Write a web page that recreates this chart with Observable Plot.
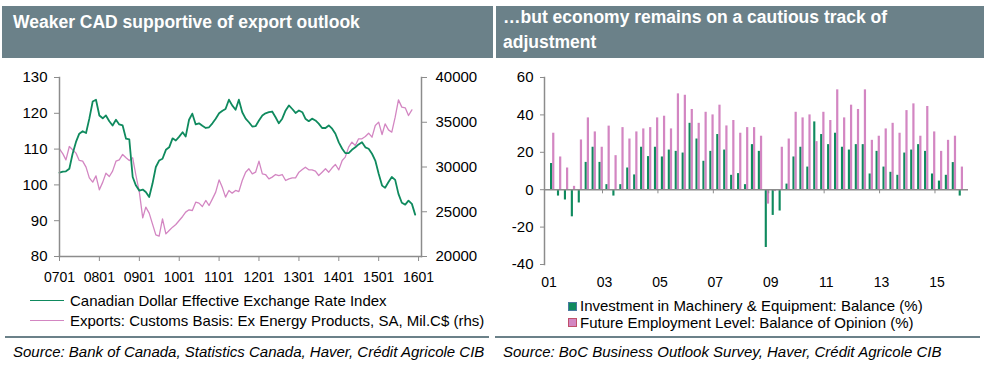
<!DOCTYPE html>
<html><head><meta charset="utf-8">
<script src="https://cdn.jsdelivr.net/npm/d3@7"></script>
<script src="https://cdn.jsdelivr.net/npm/@observablehq/plot@0.6"></script>
<style>
body{margin:0;background:#fff;font-family:"Liberation Sans",Arial,sans-serif;}
#page{position:relative;width:1000px;height:379px;overflow:hidden;background:#fff;}
.hdr{position:absolute;background:#6b8189;}
.ttl{position:absolute;color:#fff;font-weight:bold;font-size:17.5px;line-height:20px;white-space:nowrap;}
.abs{position:absolute;white-space:nowrap;}
.leg{font-size:15px;line-height:17px;color:#000;}
.src{font-size:15px;line-height:17px;font-style:italic;color:#000;}
.sep{position:absolute;height:2px;background:#6b8189;}
.plot{position:absolute;}
</style></head>
<body><div id="page"></div>
<script>
// ---------- DATA ----------
// Left panel: monthly, Jan 2007 onward
const cadStart = [2007, 0];
const cadIndex = [103.4,103.7,103.8,104.5,108.7,112,114.3,115,114.5,118.5,123.3,123.8,
 119.4,118.6,119.4,117.8,116.6,118.2,116.9,116.6,112.9,112.7,102.2,99.8,
 98.4,98.7,98.0,96.6,100.3,105,106.8,107.3,109.8,110.5,113,112.4,
 113.5,114.7,113.5,118.2,119.9,116.9,117.2,116.5,115.9,116.1,117.2,118.5,
 120,120.7,121.2,123.8,122.2,121,123.8,120.3,118.5,117.5,116.3,116.4,
 118,119.4,120,120.3,120.5,118.9,117.2,118.5,120.8,122.2,121.2,120.1,
 120.8,120.3,118.5,117.8,118.5,118,117.1,115.9,115.9,116.6,115.7,114.3,
 111.9,110.1,108.9,108.9,109.8,110.5,111.3,111.9,110.5,110.1,108.7,106.8,
 103.1,99.8,99.2,100.8,102.2,101.4,97.5,95,94.5,95.6,94.7,91.7];
const exportsExEnergy = [32030,31470,30800,32290,31920,31550,30730,30650,29980,28790,28310,29010,
 27450,28310,29310,28940,29540,30650,30800,31400,31030,30730,31030,29050,
 27190,24320,25510,24840,23650,22420,22270,24210,22530,22910,23280,23580,
 24020,24470,24960,25220,25140,26070,25960,25590,26260,25700,26440,27190,
 28570,27670,26630,27380,27080,27380,27250,28490,29420,29800,29240,29420,
 30650,29240,29160,28680,28870,29160,29050,29160,28490,28680,28790,28790,
 29420,29720,29980,29680,29680,29540,29050,29420,29800,29420,29910,30280,
 29680,30730,31100,32220,32780,32400,33150,33150,33410,33780,33330,34640,
 35010,33630,34820,34150,33890,35570,37500,36690,36610,35750,36390];
const leftYTicks = [80,90,100,110,120,130];
const rightYTicks = [20000,25000,30000,35000,40000];
const leftXTickYears = [2007,2008,2009,2010,2011,2012,2013,2014,2015,2016];
const leftSeriesNames = ["Canadian Dollar Effective Exchange Rate Index","Exports: Customs Basis: Ex Energy Products, SA, Mil.C$ (rhs)"];

// Right panel: quarterly, 2001Q1 - 2015Q4
const bosStartYear = 2001;
const investmentME = [14,-3.4,-5.5,-14.5, -7.1,14.6,22.7,14.6, 2.7,-3.4,2.7,11.6, 7.9,22.7,17.7,22.7,
 17.5,21.2,20.5,19.6, 35.5,27.1,15.2,20.5, 29.5,21.2,7.7,8.6, 2.7,24.1,20.5,-30.9,
 -13.75,-11.4,3,17.5, 22.7,12.1,36.25,29.5, 24.1,30.2,22.7,21.2, 24.1,24.1,8.4,20.5,
 12.1,9.3,7.7,19.6, 21.2,24.1,20.5,8.4, 4.6,7.7,14.5,-3.4];
const futureEmployment = [30.2,17.5,11.6,1.8, 26.6,38.4,30.9,22.7, 34,18.2,33.2,27.1, 30.9,32.5,33.2,38.4,
 39.3,32.5,51.25,50.5, 42.9,35.5,41.4,40, 45.2,34.1,37,30.2, 33.2,33.2,28.6,-7.7,
 -1,22.7,27.1,41.4, 38.4,40,25.7,41.4, 37,53.4,38.4,45.2, 42.9,53.4,26.4,28.6,
 32.5,35.5,30.2,42.3, 45.9,28.6,44.5,30.9, 20.5,26.4,28.6,12.1];
const bosYTicks = [-40,-20,0,20,40,60];
const bosXTickYears = [2001,2003,2005,2007,2009,2011,2013,2015];
const bosSeriesNames = ["Investment in Machinery & Equipment: Balance (%)","Future Employment Level: Balance of Opinion (%)"];

// ---------- STYLE ----------
const GREEN = "#0f8a5e", PINK = "#d386c2", AXIS = "#8c8c8c";
const FONT = '"Liberation Sans", Arial, sans-serif';
const page = document.getElementById("page");
function el(cls, css, text){const d=document.createElement("div");d.className=cls;d.style.cssText=css;if(text!==undefined)d.textContent=text;page.appendChild(d);return d;}

// headers
el("hdr","left:2px;top:6px;width:491px;height:52px;");
el("hdr","left:496px;top:6px;width:488px;height:52px;");
el("ttl","left:13px;top:12px;","Weaker CAD supportive of export outlook");
el("ttl","left:503px;top:7px;","…but economy remains on a cautious track of");
el("ttl","left:503px;top:32px;","adjustment");

// ---------- LEFT CHART ----------
const mDate = i => new Date(Date.UTC(cadStart[0], cadStart[1] + i, 1));
const cadData = cadIndex.map((v,i)=>({date:mDate(i), v}));
const expData = exportsExEnergy.map((v,i)=>({date:mDate(i), v}));
const toLeft = v => 80 + (v - 20000) / 400; // rhs -> lhs units
const fromLeft = d => String(Math.round(20000 + (d - 80) * 400));

const leftPlot = Plot.plot({
  width:495, height:235, marginLeft:59, marginRight:74, marginTop:17, marginBottom:39,
  style:{fontFamily:FONT, fontSize:"15px", color:"#000", background:"transparent", overflow:"visible"},
  x:{type:"utc", domain:[new Date(Date.UTC(2007,0,1)), new Date(Date.UTC(2016,0,28))]},
  y:{domain:[80,130]},
  marks:[
    Plot.line(expData,{x:"date", y:d=>toLeft(d.v), stroke:PINK, strokeWidth:1.3}),
    Plot.line(cadData,{x:"date", y:"v", stroke:GREEN, strokeWidth:1.8}),
    Plot.frame({anchor:"left", stroke:AXIS, strokeWidth:1.5}),
    Plot.frame({anchor:"right", stroke:AXIS, strokeWidth:1.5}),
    Plot.frame({anchor:"bottom", stroke:AXIS, strokeWidth:1.5}),
    Plot.axisY({ticks:leftYTicks, tickFormat:d=>String(d), tickSize:5, tickPadding:7, label:null, stroke:AXIS, fill:"#000", fontSize:15}),
    Plot.axisY({anchor:"right", ticks:rightYTicks.map(toLeft), tickFormat:fromLeft, tickSize:5, tickPadding:9, label:null, stroke:AXIS, fill:"#000", fontSize:15}),
    Plot.axisX({ticks:leftXTickYears.map(y=>new Date(Date.UTC(y,0,1))), tickFormat:d3.utcFormat("%y%m"), tickSize:5, tickPadding:11, label:null, stroke:AXIS, fill:"#000", fontSize:14})
  ]
});
leftPlot.classList.add("plot");
leftPlot.style.left="0px"; leftPlot.style.top="60px";
page.appendChild(leftPlot);

// left legend
el("abs","left:30px;top:300px;width:34px;height:0;border-top:1.5px solid "+GREEN+";");
el("abs","left:30px;top:320px;width:34px;height:0;border-top:1.5px solid "+PINK+";");
el("abs leg","left:70px;top:292px;",leftSeriesNames[0]);
el("abs leg","left:70px;top:312px;",leftSeriesNames[1]);

// ---------- RIGHT CHART ----------
const bosData = investmentME.map((v,i)=>({t: bosStartYear + i/4, inv:v, emp:futureEmployment[i]}));
const rightPlot = Plot.plot({
  width:490, height:230, marginLeft:49, marginRight:17, marginTop:17, marginBottom:26,
  style:{fontFamily:FONT, fontSize:"15px", color:"#000", background:"transparent", overflow:"visible"},
  x:{domain:[2000.906, 2016.21]},
  y:{domain:[-40,60]},
  marks:[
    Plot.rect(bosData,{x1:d=>d.t+0.123, x2:d=>d.t+0.2, y1:0, y2:"inv", fill:GREEN}),
    Plot.rect(bosData,{x1:d=>d.t+0.2, x2:d=>d.t+0.28, y1:0, y2:"emp", fill:PINK}),
    Plot.ruleY([0],{stroke:AXIS, strokeWidth:1.5}),
    Plot.ruleX(bosXTickYears.slice(1),{y1:0, y2:-2.2, stroke:AXIS}),
    Plot.frame({anchor:"left", stroke:AXIS, strokeWidth:1.5}),
    Plot.axisY({ticks:bosYTicks, tickFormat:d=>String(d), tickSize:4, tickPadding:7, label:null, stroke:AXIS, fill:"#000", fontSize:15}),
    Plot.axisX({ticks:bosXTickYears, tickFormat:d=>String(d%100).padStart(2,"0"), tickSize:0, tickPadding:13, dx:2, label:null, fill:"#000", fontSize:14})
  ]
});
rightPlot.classList.add("plot");
rightPlot.style.left="495px"; rightPlot.style.top="60px";
page.appendChild(rightPlot);

// right legend
el("abs","left:568px;top:302px;width:7px;height:7px;background:"+GREEN+";border:1px solid #4a7aa0;");
el("abs","left:568px;top:318px;width:7px;height:7px;background:"+PINK+";border:1px solid #c0506a;");
el("abs leg","left:580px;top:297px;",bosSeriesNames[0]);
el("abs leg","left:580px;top:313.5px;",bosSeriesNames[1]);

// separators + sources
el("sep","left:5px;top:336px;width:484px;");
el("sep","left:495px;top:336px;width:485px;");
el("abs src","left:13px;top:343px;","Source: Bank of Canada, Statistics Canada, Haver, Crédit Agricole CIB");
el("abs src","left:503px;top:343px;","Source: BoC Business Outlook Survey, Haver, Crédit Agricole CIB");
</script>
</body></html>
